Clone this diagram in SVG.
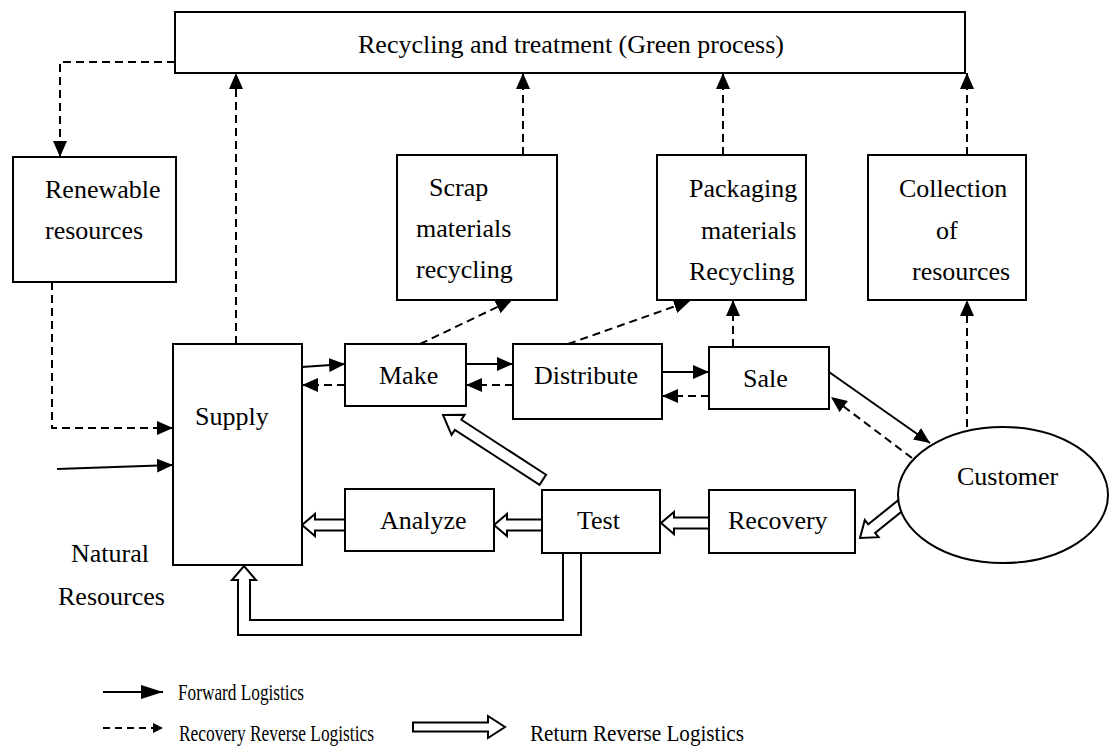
<svg xmlns="http://www.w3.org/2000/svg" width="1109" height="749" viewBox="0 0 1109 749">
<style>
.box{fill:#fff;stroke:#000;stroke-width:2}
.t{font-family:"Liberation Serif","Times New Roman",serif;font-size:26px;fill:#000}
.lg{font-family:"Liberation Serif","Times New Roman",serif;font-size:23px;fill:#000}
.solid{fill:none;stroke:#000;stroke-width:2;marker-end:url(#ah)}
.dash{fill:none;stroke:#000;stroke-width:2;stroke-dasharray:8,5;marker-end:url(#ah)}
.hollow{fill:#fff;stroke:#000;stroke-width:2;stroke-linejoin:miter}
</style>
<defs>
<marker id="ah" viewBox="0 0 16 14" refX="16" refY="7" markerWidth="16" markerHeight="14" markerUnits="userSpaceOnUse" orient="auto">
<path d="M0,0 L16,7 L0,14 z" fill="#000" stroke="none"/>
</marker>
<marker id="ahs" viewBox="0 0 10 10" refX="10" refY="5" markerWidth="10" markerHeight="10" markerUnits="userSpaceOnUse" orient="auto">
<path d="M0,0 L10,5 L0,10 z" fill="#000" stroke="none"/>
</marker>
<marker id="ahl" viewBox="0 0 22 14" refX="22" refY="7" markerWidth="22" markerHeight="14" markerUnits="userSpaceOnUse" orient="auto">
<path d="M0,0 L22,7 L0,14 z" fill="#000" stroke="none"/>
</marker>
</defs>
<rect width="1109" height="749" fill="#fff"/>

<g id="connectors">
<path class="dash" d="M175,62 H60 V157"/>
<path class="dash" d="M52,282 V428 H173"/>
<path class="dash" d="M236,344 V73"/>
<path class="dash" d="M523,155 V73"/>
<path class="dash" d="M723,155 V73"/>
<path class="dash" d="M967,155 V73"/>
<path class="dash" d="M420,344 L512,300"/>
<path class="dash" d="M568,344 L690,301"/>
<path class="dash" d="M733,347 V300"/>
<path class="dash" d="M967,427 V300"/>
<path class="dash" d="M345,385 H302"/>
<path class="dash" d="M513,385 H466"/>
<path class="dash" d="M709,396 H662"/>
<path class="dash" d="M912,458 L831,397"/>
<path class="solid" d="M57,469 L173,465"/>
<path class="solid" d="M302,367 L345,364"/>
<path class="solid" d="M466,364 H513"/>
<path class="solid" d="M662,372 H709"/>
<path class="solid" d="M829,372 L930,443"/>
<polygon class="hollow" points="542,519.5 507,519.5 507,514 494,525 507,536 507,530.5 542,530.5"/>
<polygon class="hollow" points="345,519.5 315,519.5 315,514 302,525 315,536 315,530.5 345,530.5"/>
<polygon class="hollow" points="709,517.5 674,517.5 674,512 661,523 674,534 674,528.5 709,528.5"/>
<polygon class="hollow" transform="translate(443,415) rotate(33)" points="0,0 18,-12 18,-6 119,-6 119,6 18,6 18,12"/>
<polygon class="hollow" transform="translate(860,538) rotate(-38.8)" points="0,0 15,-11 15,-5.5 53,-5.5 53,5.5 15,5.5 15,11"/>
<path class="hollow" d="M581,553 V635 H238 V580 H232 L244,566 L256,580 H250 V620 H563 V553"/>
</g>

<g id="recycling"><rect class="box" x="175" y="12" width="790" height="61"/><text class="t" x="358" y="53">Recycling and treatment (Green process)</text></g>
<g id="renewable"><rect class="box" x="13" y="157" width="163" height="125"/><text class="t" x="45" y="198">Renewable</text><text class="t" x="45" y="239">resources</text></g>
<g id="scrap"><rect class="box" x="397" y="155" width="160" height="145"/><text class="t" x="429" y="196">Scrap</text><text class="t" x="416" y="237">materials</text><text class="t" x="416" y="278">recycling</text></g>
<g id="packaging"><rect class="box" x="657" y="155" width="149" height="145"/><text class="t" x="689" y="197">Packaging</text><text class="t" x="701" y="239">materials</text><text class="t" x="689" y="280">Recycling</text></g>
<g id="collection"><rect class="box" x="868" y="155" width="158" height="145"/><text class="t" x="899" y="197">Collection</text><text class="t" x="936" y="239">of</text><text class="t" x="912" y="280">resources</text></g>
<g id="supply"><rect class="box" x="173" y="344" width="129" height="221"/><text class="t" x="195" y="425">Supply</text></g>
<g id="make"><rect class="box" x="345" y="344" width="121" height="62"/><text class="t" x="379" y="384">Make</text></g>
<g id="distribute"><rect class="box" x="513" y="344" width="149" height="75"/><text class="t" x="534" y="384">Distribute</text></g>
<g id="sale"><rect class="box" x="709" y="347" width="120" height="62"/><text class="t" x="743" y="387">Sale</text></g>
<g id="customer"><ellipse class="box" cx="1003" cy="495" rx="105" ry="68"/><text class="t" x="957" y="485">Customer</text></g>
<g id="analyze"><rect class="box" x="345" y="489" width="149" height="62"/><text class="t" x="380" y="529">Analyze</text></g>
<g id="test"><rect class="box" x="542" y="490" width="118" height="63"/><text class="t" x="577" y="529">Test</text></g>
<g id="recovery"><rect class="box" x="709" y="490" width="146" height="63"/><text class="t" x="728" y="529">Recovery</text></g>
<g id="natural"><text class="t" x="71" y="562">Natural</text><text class="t" x="58" y="605">Resources</text></g>

<g id="legend">
<path d="M103,692 H163" fill="none" stroke="#000" stroke-width="2" marker-end="url(#ahl)"/>
<text class="lg" x="178" y="700" textLength="126" lengthAdjust="spacingAndGlyphs">Forward Logistics</text>
<path d="M103,728 H163" fill="none" stroke="#000" stroke-width="2" stroke-dasharray="7,5" marker-end="url(#ahs)"/>
<text class="lg" x="179" y="741" textLength="195" lengthAdjust="spacingAndGlyphs">Recovery Reverse Logistics</text>
<polygon class="hollow" points="413,722.5 488,722.5 488,716 505,727 488,738 488,731.5 413,731.5"/>
<text class="lg" x="530" y="741" textLength="214" lengthAdjust="spacingAndGlyphs">Return Reverse Logistics</text>
</g>
</svg>
